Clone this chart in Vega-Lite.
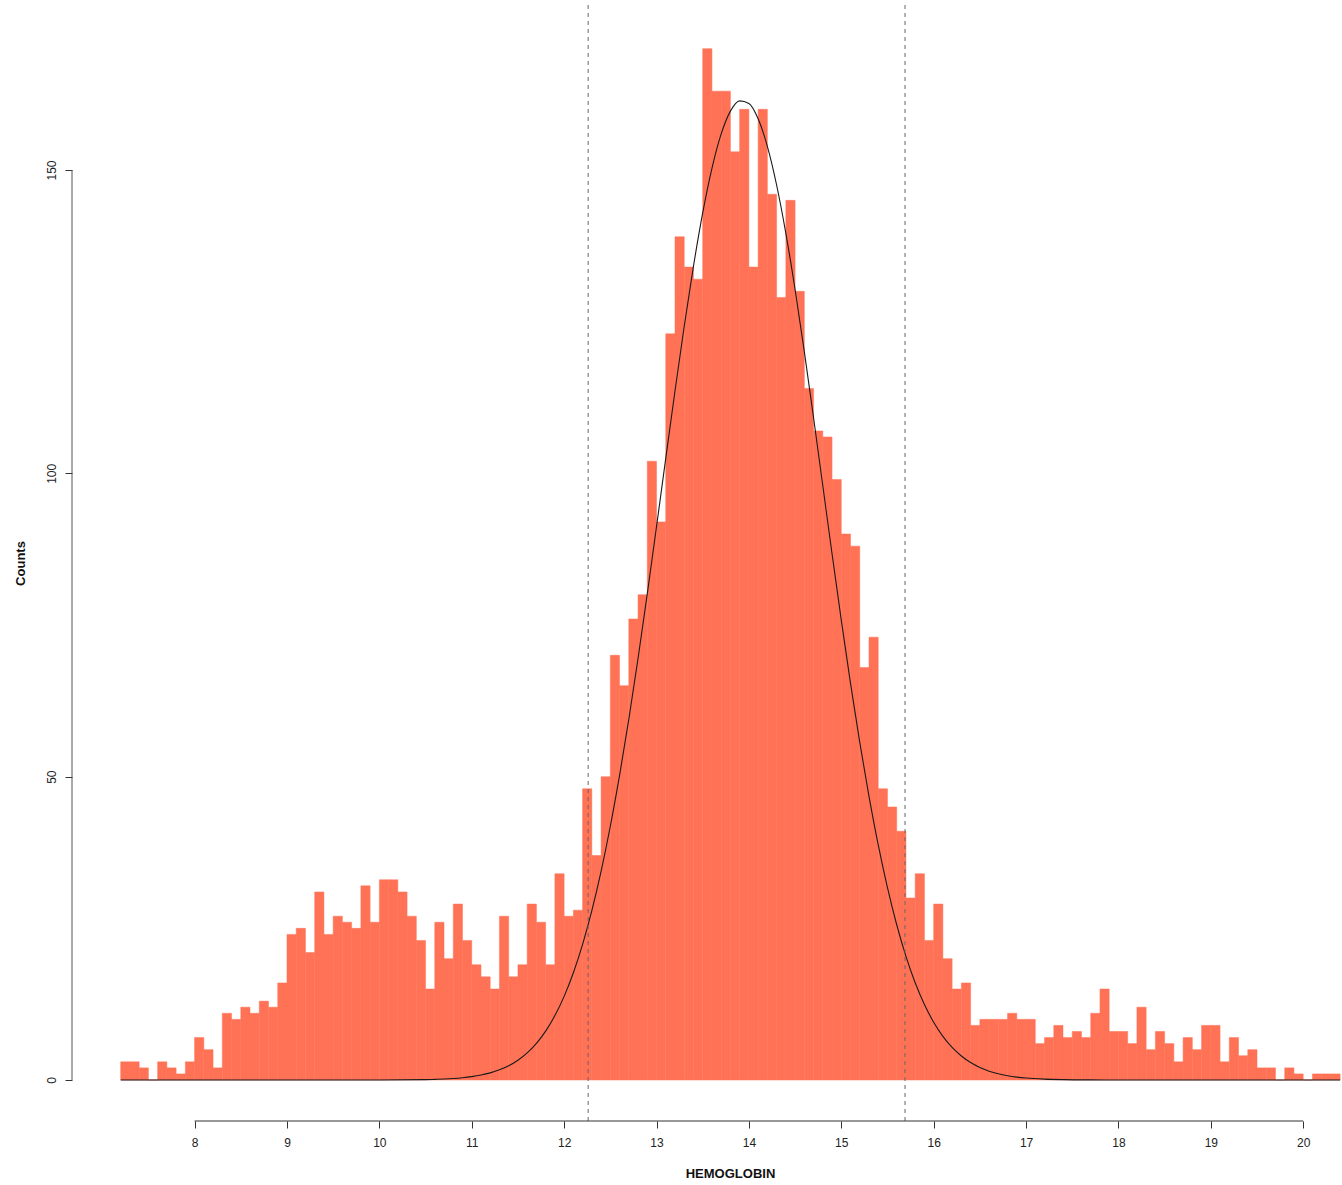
{
  "$schema": "https://vega.github.io/schema/vega-lite/v6.json",
  "width": 1270,
  "height": 1120,
  "autosize": "none",
  "padding": {"left": 72, "top": 1, "right": 0, "bottom": 64},
  "background": "white",
  "config": {"view": {"stroke": null}},
  "datasets": {
    "bins": [
      {"hb": 7.2, "hb_end": 7.3, "count": 3}, {"hb": 7.3, "hb_end": 7.4, "count": 3}, {"hb": 7.4, "hb_end": 7.5, "count": 2}, {"hb": 7.5, "hb_end": 7.6, "count": 0},
      {"hb": 7.6, "hb_end": 7.7, "count": 3}, {"hb": 7.7, "hb_end": 7.8, "count": 2}, {"hb": 7.8, "hb_end": 7.9, "count": 1}, {"hb": 7.9, "hb_end": 8.0, "count": 3},
      {"hb": 8.0, "hb_end": 8.1, "count": 7}, {"hb": 8.1, "hb_end": 8.2, "count": 5}, {"hb": 8.2, "hb_end": 8.3, "count": 2}, {"hb": 8.3, "hb_end": 8.4, "count": 11},
      {"hb": 8.4, "hb_end": 8.5, "count": 10}, {"hb": 8.5, "hb_end": 8.6, "count": 12}, {"hb": 8.6, "hb_end": 8.7, "count": 11}, {"hb": 8.7, "hb_end": 8.8, "count": 13},
      {"hb": 8.8, "hb_end": 8.9, "count": 12}, {"hb": 8.9, "hb_end": 9.0, "count": 16}, {"hb": 9.0, "hb_end": 9.1, "count": 24}, {"hb": 9.1, "hb_end": 9.2, "count": 25},
      {"hb": 9.2, "hb_end": 9.3, "count": 21}, {"hb": 9.3, "hb_end": 9.4, "count": 31}, {"hb": 9.4, "hb_end": 9.5, "count": 24}, {"hb": 9.5, "hb_end": 9.6, "count": 27},
      {"hb": 9.6, "hb_end": 9.7, "count": 26}, {"hb": 9.7, "hb_end": 9.8, "count": 25}, {"hb": 9.8, "hb_end": 9.9, "count": 32}, {"hb": 9.9, "hb_end": 10.0, "count": 26},
      {"hb": 10.0, "hb_end": 10.1, "count": 33}, {"hb": 10.1, "hb_end": 10.2, "count": 33}, {"hb": 10.2, "hb_end": 10.3, "count": 31}, {"hb": 10.3, "hb_end": 10.4, "count": 27},
      {"hb": 10.4, "hb_end": 10.5, "count": 23}, {"hb": 10.5, "hb_end": 10.6, "count": 15}, {"hb": 10.6, "hb_end": 10.7, "count": 26}, {"hb": 10.7, "hb_end": 10.8, "count": 20},
      {"hb": 10.8, "hb_end": 10.9, "count": 29}, {"hb": 10.9, "hb_end": 11.0, "count": 23}, {"hb": 11.0, "hb_end": 11.1, "count": 19}, {"hb": 11.1, "hb_end": 11.2, "count": 17},
      {"hb": 11.2, "hb_end": 11.3, "count": 15}, {"hb": 11.3, "hb_end": 11.4, "count": 27}, {"hb": 11.4, "hb_end": 11.5, "count": 17}, {"hb": 11.5, "hb_end": 11.6, "count": 19},
      {"hb": 11.6, "hb_end": 11.7, "count": 29}, {"hb": 11.7, "hb_end": 11.8, "count": 26}, {"hb": 11.8, "hb_end": 11.9, "count": 19}, {"hb": 11.9, "hb_end": 12.0, "count": 34},
      {"hb": 12.0, "hb_end": 12.1, "count": 27}, {"hb": 12.1, "hb_end": 12.2, "count": 28}, {"hb": 12.2, "hb_end": 12.3, "count": 48}, {"hb": 12.3, "hb_end": 12.4, "count": 37},
      {"hb": 12.4, "hb_end": 12.5, "count": 50}, {"hb": 12.5, "hb_end": 12.6, "count": 70}, {"hb": 12.6, "hb_end": 12.7, "count": 65}, {"hb": 12.7, "hb_end": 12.8, "count": 76},
      {"hb": 12.8, "hb_end": 12.9, "count": 80}, {"hb": 12.9, "hb_end": 13.0, "count": 102}, {"hb": 13.0, "hb_end": 13.1, "count": 92}, {"hb": 13.1, "hb_end": 13.2, "count": 123},
      {"hb": 13.2, "hb_end": 13.3, "count": 139}, {"hb": 13.3, "hb_end": 13.4, "count": 134}, {"hb": 13.4, "hb_end": 13.5, "count": 132}, {"hb": 13.5, "hb_end": 13.6, "count": 170},
      {"hb": 13.6, "hb_end": 13.7, "count": 163}, {"hb": 13.7, "hb_end": 13.8, "count": 163}, {"hb": 13.8, "hb_end": 13.9, "count": 153}, {"hb": 13.9, "hb_end": 14.0, "count": 160},
      {"hb": 14.0, "hb_end": 14.1, "count": 134}, {"hb": 14.1, "hb_end": 14.2, "count": 160}, {"hb": 14.2, "hb_end": 14.3, "count": 146}, {"hb": 14.3, "hb_end": 14.4, "count": 129},
      {"hb": 14.4, "hb_end": 14.5, "count": 145}, {"hb": 14.5, "hb_end": 14.6, "count": 130}, {"hb": 14.6, "hb_end": 14.7, "count": 114}, {"hb": 14.7, "hb_end": 14.8, "count": 107},
      {"hb": 14.8, "hb_end": 14.9, "count": 106}, {"hb": 14.9, "hb_end": 15.0, "count": 99}, {"hb": 15.0, "hb_end": 15.1, "count": 90}, {"hb": 15.1, "hb_end": 15.2, "count": 88},
      {"hb": 15.2, "hb_end": 15.3, "count": 68}, {"hb": 15.3, "hb_end": 15.4, "count": 73}, {"hb": 15.4, "hb_end": 15.5, "count": 48}, {"hb": 15.5, "hb_end": 15.6, "count": 45},
      {"hb": 15.6, "hb_end": 15.7, "count": 41}, {"hb": 15.7, "hb_end": 15.8, "count": 30}, {"hb": 15.8, "hb_end": 15.9, "count": 34}, {"hb": 15.9, "hb_end": 16.0, "count": 23},
      {"hb": 16.0, "hb_end": 16.1, "count": 29}, {"hb": 16.1, "hb_end": 16.2, "count": 20}, {"hb": 16.2, "hb_end": 16.3, "count": 15}, {"hb": 16.3, "hb_end": 16.4, "count": 16},
      {"hb": 16.4, "hb_end": 16.5, "count": 9}, {"hb": 16.5, "hb_end": 16.6, "count": 10}, {"hb": 16.6, "hb_end": 16.7, "count": 10}, {"hb": 16.7, "hb_end": 16.8, "count": 10},
      {"hb": 16.8, "hb_end": 16.9, "count": 11}, {"hb": 16.9, "hb_end": 17.0, "count": 10}, {"hb": 17.0, "hb_end": 17.1, "count": 10}, {"hb": 17.1, "hb_end": 17.2, "count": 6},
      {"hb": 17.2, "hb_end": 17.3, "count": 7}, {"hb": 17.3, "hb_end": 17.4, "count": 9}, {"hb": 17.4, "hb_end": 17.5, "count": 7}, {"hb": 17.5, "hb_end": 17.6, "count": 8},
      {"hb": 17.6, "hb_end": 17.7, "count": 7}, {"hb": 17.7, "hb_end": 17.8, "count": 11}, {"hb": 17.8, "hb_end": 17.9, "count": 15}, {"hb": 17.9, "hb_end": 18.0, "count": 8},
      {"hb": 18.0, "hb_end": 18.1, "count": 8}, {"hb": 18.1, "hb_end": 18.2, "count": 6}, {"hb": 18.2, "hb_end": 18.3, "count": 12}, {"hb": 18.3, "hb_end": 18.4, "count": 5},
      {"hb": 18.4, "hb_end": 18.5, "count": 8}, {"hb": 18.5, "hb_end": 18.6, "count": 6}, {"hb": 18.6, "hb_end": 18.7, "count": 3}, {"hb": 18.7, "hb_end": 18.8, "count": 7},
      {"hb": 18.8, "hb_end": 18.9, "count": 5}, {"hb": 18.9, "hb_end": 19.0, "count": 9}, {"hb": 19.0, "hb_end": 19.1, "count": 9}, {"hb": 19.1, "hb_end": 19.2, "count": 3},
      {"hb": 19.2, "hb_end": 19.3, "count": 7}, {"hb": 19.3, "hb_end": 19.4, "count": 4}, {"hb": 19.4, "hb_end": 19.5, "count": 5}, {"hb": 19.5, "hb_end": 19.6, "count": 2},
      {"hb": 19.6, "hb_end": 19.7, "count": 2}, {"hb": 19.7, "hb_end": 19.8, "count": 0}, {"hb": 19.8, "hb_end": 19.9, "count": 2}, {"hb": 19.9, "hb_end": 20.0, "count": 1},
      {"hb": 20.0, "hb_end": 20.1, "count": 0}, {"hb": 20.1, "hb_end": 20.2, "count": 1}, {"hb": 20.2, "hb_end": 20.3, "count": 1}, {"hb": 20.3, "hb_end": 20.4, "count": 1}
    ],
    "curve": [
      {"hb": 7.2, "count": 0}, {"hb": 8.0, "count": 0}, {"hb": 9.0, "count": 0}, {"hb": 9.5, "count": 0.0004}, {"hb": 10.0, "count": 0.006},
      {"hb": 10.5, "count": 0.068}, {"hb": 10.6, "count": 0.106}, {"hb": 10.7, "count": 0.164}, {"hb": 10.8, "count": 0.25}, {"hb": 10.9, "count": 0.375},
      {"hb": 11.0, "count": 0.556}, {"hb": 11.1, "count": 0.814}, {"hb": 11.2, "count": 1.176}, {"hb": 11.3, "count": 1.675}, {"hb": 11.4, "count": 2.355},
      {"hb": 11.5, "count": 3.266}, {"hb": 11.6, "count": 4.474}, {"hb": 11.7, "count": 6.046}, {"hb": 11.8, "count": 8.065}, {"hb": 11.9, "count": 10.615},
      {"hb": 12.0, "count": 13.785}, {"hb": 12.1, "count": 17.68}, {"hb": 12.2, "count": 22.36}, {"hb": 12.3, "count": 27.92}, {"hb": 12.4, "count": 34.4},
      {"hb": 12.5, "count": 41.83}, {"hb": 12.6, "count": 50.2}, {"hb": 12.7, "count": 59.45}, {"hb": 12.8, "count": 69.48}, {"hb": 12.9, "count": 80.14},
      {"hb": 13.0, "count": 91.21}, {"hb": 13.1, "count": 102.46}, {"hb": 13.2, "count": 113.57}, {"hb": 13.3, "count": 124.25}, {"hb": 13.4, "count": 134.15},
      {"hb": 13.5, "count": 142.93}, {"hb": 13.6, "count": 150.29}, {"hb": 13.7, "count": 155.95}, {"hb": 13.8, "count": 159.71}, {"hb": 13.9, "count": 161.4},
      {"hb": 14.0, "count": 160.98}, {"hb": 14.1, "count": 158.45}, {"hb": 14.2, "count": 153.91}, {"hb": 14.3, "count": 147.53}, {"hb": 14.4, "count": 139.57},
      {"hb": 14.5, "count": 130.3}, {"hb": 14.6, "count": 120.06}, {"hb": 14.7, "count": 109.16}, {"hb": 14.8, "count": 97.95}, {"hb": 14.9, "count": 86.74},
      {"hb": 15.0, "count": 75.8}, {"hb": 15.1, "count": 65.38}, {"hb": 15.2, "count": 55.65}, {"hb": 15.3, "count": 46.74}, {"hb": 15.4, "count": 38.74},
      {"hb": 15.5, "count": 31.7}, {"hb": 15.6, "count": 25.59}, {"hb": 15.7, "count": 20.39}, {"hb": 15.8, "count": 16.03}, {"hb": 15.9, "count": 12.44},
      {"hb": 16.0, "count": 9.525}, {"hb": 16.1, "count": 7.198}, {"hb": 16.2, "count": 5.367}, {"hb": 16.3, "count": 3.95}, {"hb": 16.4, "count": 2.87},
      {"hb": 16.5, "count": 2.058}, {"hb": 16.6, "count": 1.456}, {"hb": 16.7, "count": 1.016}, {"hb": 16.8, "count": 0.7}, {"hb": 16.9, "count": 0.476},
      {"hb": 17.0, "count": 0.319}, {"hb": 17.2, "count": 0.138}, {"hb": 17.4, "count": 0.057}, {"hb": 17.7, "count": 0.0135}, {"hb": 18.0, "count": 0.002},
      {"hb": 19.0, "count": 0}, {"hb": 20.0, "count": 0}, {"hb": 20.4, "count": 0}
    ],
    "refs": [
      {"hb": 12.26, "count": -6.758, "count_end": 177.86},
      {"hb": 15.69, "count": -6.758, "count_end": 177.86}
    ],
    "yaxisline": [{"hb": 6.673, "count": 0, "count_end": 150}],
    "xaxisline": [{"hb": 8, "hb_end": 20, "count": -6.758}]
  },
  "encoding": {
    "x": {
      "field": "hb", "type": "quantitative", "title": "HEMOGLOBIN",
      "scale": {"domain": [6.673, 20.42], "nice": false, "zero": false},
      "axis": {
        "domain": false, "grid": false, "values": [8, 9, 10, 11, 12, 13, 14, 15, 16, 17, 18, 19, 20],
        "tickSize": 7, "tickColor": "#333", "tickWidth": 1,
        "labelFont": "Liberation Sans", "labelFontSize": 12, "labelColor": "#222", "labelPadding": 9,
        "labelFlush": false, "labelOverlap": false,
        "titleFont": "Liberation Sans", "titleFontSize": 13, "titleFontWeight": "bold", "titleColor": "#111",
        "titleX": 658, "titleY": 52, "titleAlign": "center", "titleBaseline": "middle"
      }
    },
    "y": {
      "field": "count", "type": "quantitative", "title": "Counts",
      "scale": {"domain": [-6.758, 177.86], "nice": false, "zero": false},
      "axis": {
        "domain": false, "grid": false, "values": [0, 50, 100, 150],
        "tickSize": 7, "tickColor": "#333", "tickWidth": 1,
        "labelFont": "Liberation Sans", "labelFontSize": 12, "labelColor": "#222", "labelPadding": 7,
        "labelAngle": 270, "labelAlign": "center", "labelBaseline": "bottom",
        "labelFlush": false, "labelOverlap": false,
        "titleFont": "Liberation Sans", "titleFontSize": 13, "titleFontWeight": "bold", "titleColor": "#111",
        "titleAngle": 270, "titleX": -52, "titleY": 562, "titleAlign": "center", "titleBaseline": "middle"
      }
    }
  },
  "layer": [
    {
      "data": {"name": "bins"},
      "mark": {"type": "rect", "color": "#FF7256", "stroke": "#FF7256", "strokeWidth": 0.5},
      "encoding": {"x2": {"field": "hb_end"}, "y2": {"datum": 0}}
    },
    {
      "data": {"name": "curve"},
      "mark": {"type": "line", "color": "#1a1a1a", "strokeWidth": 1.1, "interpolate": "monotone"},
      "encoding": {}
    },
    {
      "data": {"name": "refs"},
      "mark": {"type": "rule", "color": "#666", "strokeWidth": 1, "strokeDash": [4, 4]},
      "encoding": {"y2": {"field": "count_end"}}
    },
    {
      "data": {"name": "yaxisline"},
      "mark": {"type": "rule", "color": "#555", "strokeWidth": 1},
      "encoding": {"y2": {"field": "count_end"}}
    },
    {
      "data": {"name": "xaxisline"},
      "mark": {"type": "rule", "color": "#333", "strokeWidth": 1},
      "encoding": {"x2": {"field": "hb_end"}}
    }
  ]
}
